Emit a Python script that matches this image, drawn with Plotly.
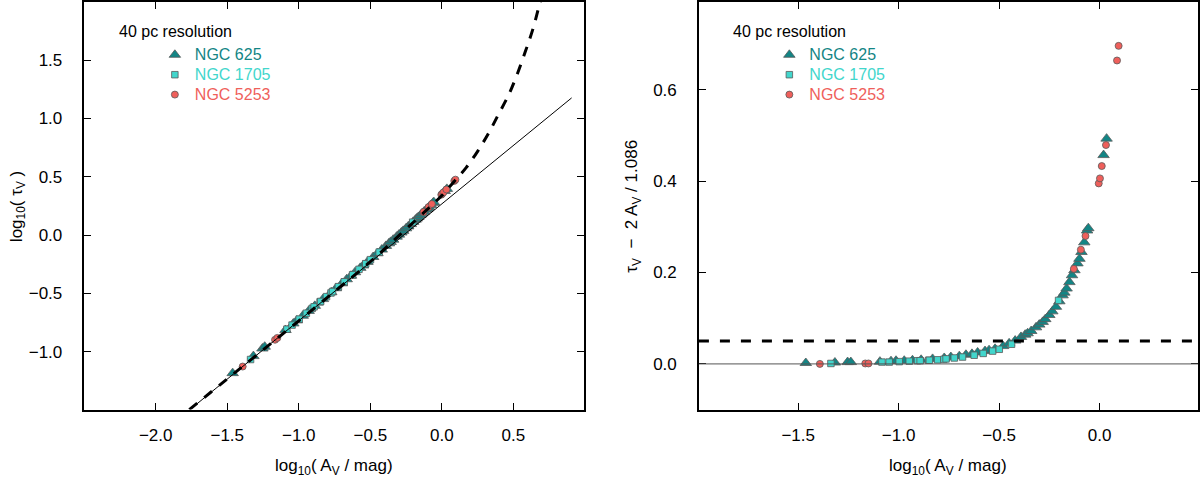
import numpy as np
import plotly.graph_objects as go

# measured points: log10(A_V / mag) and excess tau_V - 2 A_V / 1.086
log_av_625 = [-1.462, -1.317, -1.254, -1.238, -1.093, -1.038, -1.013, -0.972, -0.931, -0.888,
              -0.831, -0.773, -0.740, -0.698, -0.665, -0.635, -0.607, -0.570, -0.550, -0.520,
              -0.480, -0.450, -0.420, -0.391, -0.370, -0.358, -0.340, -0.316, -0.300, -0.283,
              -0.270, -0.250, -0.235, -0.217, -0.200, -0.184, -0.175, -0.164, -0.150, -0.137,
              -0.125, -0.110, -0.100, -0.090, -0.076, -0.062, -0.056, 0.020, 0.035]
excess_625 = [0.002, 0.003, 0.004, 0.004, 0.005, 0.006, 0.007, 0.007, 0.008, 0.009,
              0.011, 0.013, 0.015, 0.017, 0.020, 0.022, 0.025, 0.028, 0.030, 0.033,
              0.039, 0.045, 0.051, 0.059, 0.064, 0.067, 0.072, 0.080, 0.086, 0.092,
              0.098, 0.107, 0.115, 0.125, 0.137, 0.150, 0.156, 0.165, 0.179, 0.194,
              0.205, 0.220, 0.230, 0.245, 0.266, 0.292, 0.297, 0.457, 0.493]

log_av_1705 = [-1.337, -1.083, -1.047, -0.997, -0.947, -0.906, -0.893, -0.851, -0.847, -0.806,
               -0.775, -0.764, -0.723, -0.682, -0.624, -0.579, -0.532, -0.499, -0.438, -0.204]
excess_1705 = [0.001, 0.004, 0.004, 0.005, 0.006, 0.007, 0.007, 0.008, 0.008, 0.009,
               0.010, 0.011, 0.013, 0.015, 0.019, 0.023, 0.028, 0.032, 0.043, 0.139]

log_av_5253 = [-1.392, -1.166, -1.150, -0.128, -0.093, -0.070, -0.004, 0.002, 0.011, 0.032,
               0.087, 0.095]
excess_5253 = [0.000, 0.001, 0.001, 0.208, 0.250, 0.280, 0.395, 0.406, 0.433, 0.479,
               0.664, 0.696]

# reference curves in the left panel
linear_x = [-1.761, 0.907]
linear_y = [-1.496, 1.176]
model_x = [-1.765, -1.0, -0.5, -0.3, -0.1, 0.0, 0.089, 0.170, 0.251, 0.328, 0.398,
           0.468, 0.530, 0.584, 0.635, 0.682, 0.700]
model_y = [-1.496, -0.735, -0.228, -0.005, 0.222, 0.340, 0.464, 0.578, 0.720, 0.877, 1.040,
           1.205, 1.390, 1.575, 1.761, 1.974, 2.050]

# horizontal levels in the right panel
zero_level = 0.0
threshold = 0.05

FONT = "Liberation Sans, Arial, sans-serif"
C625 = "#138585"
C1705 = "#42d6cc"
C5253 = "#ef5f5b"
EDGE = "#5a5a5a"

galaxies = [
    ("NGC 625", log_av_625, excess_625, "triangle-up", 10, C625),
    ("NGC 1705", log_av_1705, excess_1705, "square", 6.5, C1705),
    ("NGC 5253", log_av_5253, excess_5253, "circle", 7, C5253),
]

fig = go.Figure()

for name, lx, ex, sym, size, col in galaxies:
    lx = np.array(lx)
    ex = np.array(ex)
    # same points, shown as log10(tau_V)
    tau = 2 * 10 ** lx / 1.086 + ex
    marker = dict(symbol=sym, size=size, color=col, line=dict(color=EDGE, width=0.8))
    label = '<span style="color:%s;font-size:16px">%s</span>' % (col, name)
    fig.add_trace(go.Scatter(x=lx, y=np.log10(tau), mode="markers", marker=marker,
                             name=label, legend="legend", xaxis="x", yaxis="y"))
    fig.add_trace(go.Scatter(x=lx, y=ex, mode="markers", marker=marker,
                             name=label, legend="legend2", xaxis="x2", yaxis="y2"))

fig.add_trace(go.Scatter(x=linear_x, y=linear_y, mode="lines", showlegend=False,
                         line=dict(color="black", width=1), xaxis="x", yaxis="y"))
fig.add_trace(go.Scatter(x=model_x, y=model_y, mode="lines", showlegend=False,
                         line=dict(color="black", width=3, dash="10px,9px", shape="spline"),
                         xaxis="x", yaxis="y"))

fig.add_shape(type="line", xref="x2 domain", yref="y2", x0=0, x1=1, y0=zero_level, y1=zero_level,
              line=dict(color="#555555", width=1))
fig.add_shape(type="line", xref="x2 domain", yref="y2", x0=0, x1=1, y0=threshold, y1=threshold,
              line=dict(color="black", width=3, dash="10px,11px"))

axis_style = dict(showline=True, mirror="allticks", linecolor="black", linewidth=1.5,
                  ticks="inside", ticklen=7, tickwidth=1, tickcolor="black",
                  showgrid=False, zeroline=False, tickformat=".1f",
                  tickfont=dict(family=FONT, size=17, color="black"))

fig.update_layout(
    width=1200, height=485,
    margin=dict(l=0, r=0, t=0, b=0),
    plot_bgcolor="white", paper_bgcolor="white",
    xaxis=dict(domain=[84.5 / 1200, 584 / 1200], range=[-2.498, 0.99],
               tickvals=[-2.0, -1.5, -1.0, -0.5, 0.0, 0.5], ticklabelstandoff=9, **axis_style),
    yaxis=dict(domain=[1 - 409.3 / 485, 1], range=[-1.496, 1.998],
               tickvals=[-1.0, -0.5, 0.0, 0.5, 1.0, 1.5], ticklabelstandoff=17, **axis_style),
    xaxis2=dict(domain=[699.5 / 1200, 1199 / 1200], range=[-1.994, 0.49], anchor="y2",
                tickvals=[-1.5, -1.0, -0.5, 0.0], ticklabelstandoff=9, **axis_style),
    yaxis2=dict(domain=[1 - 409.3 / 485, 1], range=[-0.1, 0.792], anchor="x2",
                tickvals=[0.0, 0.2, 0.4, 0.6], ticklabelstandoff=17, **axis_style),
    legend=dict(x=155 / 1200, y=1 - 38 / 485, xanchor="left", yanchor="top",
                bgcolor="rgba(0,0,0,0)", font=dict(family=FONT, size=13), tracegroupgap=0),
    legend2=dict(x=770 / 1200, y=1 - 38 / 485, xanchor="left", yanchor="top",
                 bgcolor="rgba(0,0,0,0)", font=dict(family=FONT, size=13), tracegroupgap=0),
    showlegend=True,
)

notes = [
    (117 / 1200, 1 - 30 / 485, "40 pc resolution", 0, "left", 16),
    (732 / 1200, 1 - 30 / 485, "40 pc resolution", 0, "left", 16),
    (334.5 / 1200, 1 - 467 / 485, "log<sub>10</sub>( A<sub>V</sub> / mag)", 0, "center", 17),
    (949 / 1200, 1 - 467 / 485, "log<sub>10</sub>( A<sub>V</sub> / mag)", 0, "center", 17),
    (18 / 1200, 1 - 205 / 485, "log<sub>10</sub>( \u03c4<sub>V</sub> )", -90, "center", 17),
    (634 / 1200, 1 - 205 / 485,
     "\u03c4<sub>V</sub>\u00a0\u00a0\u2212\u00a0\u00a02 A<sub>V</sub> / 1.086", -90, "center", 17),
]
for x, y, text, angle, xa, size in notes:
    fig.add_annotation(x=x, y=y, xref="paper", yref="paper", text=text, showarrow=False,
                       textangle=angle, xanchor=xa, yanchor="middle",
                       font=dict(family=FONT, size=size, color="black"))

fig.write_html("out.html", config={"displayModeBar": False},
               post_script="document.body.style.margin='0';")
